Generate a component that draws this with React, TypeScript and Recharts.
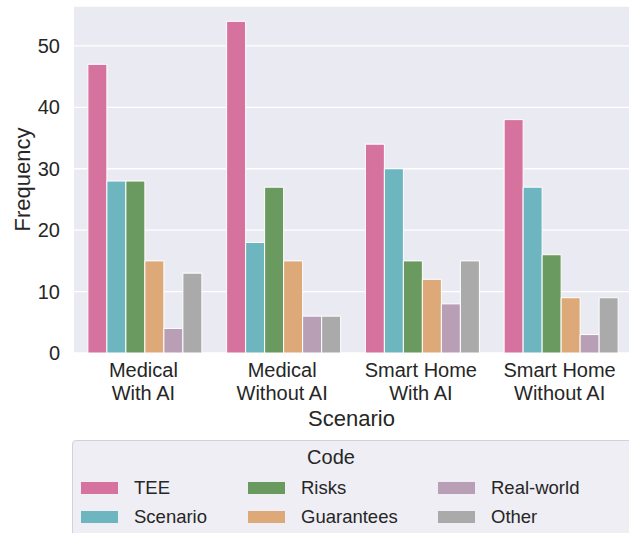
import React from "react";
import { BarChart, Bar, XAxis, YAxis, CartesianGrid } from "recharts";

const scenarios = ["Medical\nWith AI", "Medical\nWithout AI", "Smart Home\nWith AI", "Smart Home\nWithout AI"];
const codes = ["TEE", "Scenario", "Risks", "Guarantees", "Real-world", "Other"];
const colors = ["#D6729E", "#6EB6BF", "#6A9A5F", "#DEA978", "#B99FB5", "#AAAAAA"];
const teeValues = [47, 54, 34, 38];
const scenarioValues = [28, 18, 30, 27];
const risksValues = [28, 27, 15, 16];
const guaranteesValues = [15, 15, 12, 9];
const realWorldValues = [4, 6, 8, 3];
const otherValues = [13, 6, 15, 9];
const yTicks = [0, 10, 20, 30, 40, 50];

const seriesValues = [teeValues, scenarioValues, risksValues, guaranteesValues, realWorldValues, otherValues];
const data = scenarios.map((s, i) => {
  const row: any = { name: s };
  codes.forEach((c, j) => (row[c] = seriesValues[j][i]));
  return row;
});

const FONT = "'Liberation Sans', Arial, sans-serif";
const TXT = "#262626";

const XTick = (props: any) => {
  const { x, y, payload } = props;
  const lines = String(payload.value).split("\n");
  return (
    <g transform={`translate(${x},${y})`}>
      {lines.map((l, i) => (
        <text key={i} x={0} y={i * 22.5} dy={16} textAnchor="middle" fill={TXT} fontSize={20} fontFamily={FONT}>
          {l}
        </text>
      ))}
    </g>
  );
};

const YLabel = (props: any) => {
  const vb = props.viewBox || {};
  const cy = vb.y + vb.height / 2;
  return (
    <text x={22} y={cy} transform={`rotate(-90, 22, ${cy})`} textAnchor="middle" dominantBaseline="central" fill={TXT} fontSize={22} fontFamily={FONT}>
      Frequency
    </text>
  );
};

const XLabel = (props: any) => {
  const vb = props.viewBox || {};
  const cx = vb.x + vb.width / 2;
  return (
    <text x={cx} y={426} textAnchor="middle" fill={TXT} fontSize={22} fontFamily={FONT}>
      Scenario
    </text>
  );
};

export default function App() {
  const rows = [
    [0, 2, 4],
    [1, 3, 5],
  ];
  const colX = [8, 175, 365];
  return (
    <div style={{ position: "absolute", left: 0, top: 0, width: 629, height: 533, overflow: "hidden", background: "#fff" }}>
      <BarChart
        width={629}
        height={533}
        data={data}
        margin={{ top: 6, right: 0, left: 0, bottom: 100 }}
        barCategoryGap="10%"
        barGap={0}
      >
        <CartesianGrid vertical={false} fill="#EAEAF2" fillOpacity={1} stroke="#FFFFFF" strokeWidth={1.3} />
        <XAxis
          dataKey="name"
          axisLine={false}
          tickLine={false}
          tick={<XTick />}
          interval={0}
          height={80}
          label={<XLabel />}
        />
        <YAxis
          domain={[0, 56.5]}
          ticks={yTicks}
          axisLine={false}
          tickLine={false}
          width={74}
          tick={{ fill: TXT, fontSize: 20, fontFamily: FONT }}
          tickMargin={8}
          label={<YLabel />}
        />
        {codes.map((c, i) => (
          <Bar key={c} dataKey={c} fill={colors[i]} stroke="#FFFFFF" strokeWidth={1} isAnimationActive={false} />
        ))}
      </BarChart>
      <div
        style={{
          position: "absolute",
          left: 72,
          top: 440,
          width: 580,
          height: 110,
          background: "#EEEEF4",
          border: "1px solid #D3D3D3",
          borderRadius: 4,
          fontFamily: FONT,
          color: TXT,
        }}
      >
        <div style={{ position: "absolute", left: 0, width: 516, top: 5, textAlign: "center", fontSize: 20 }}>Code</div>
        {rows.map((r, ri) =>
          r.map((ci, k) => (
            <div key={ci} style={{ position: "absolute", left: colX[k], top: 36 + ri * 29, display: "flex", alignItems: "center", height: 22 }}>
              <div style={{ width: 37, height: 12, background: colors[ci] }} />
              <div style={{ marginLeft: 16, fontSize: 18.5, whiteSpace: "nowrap" }}>{codes[ci]}</div>
            </div>
          ))
        )}
      </div>
    </div>
  );
}
